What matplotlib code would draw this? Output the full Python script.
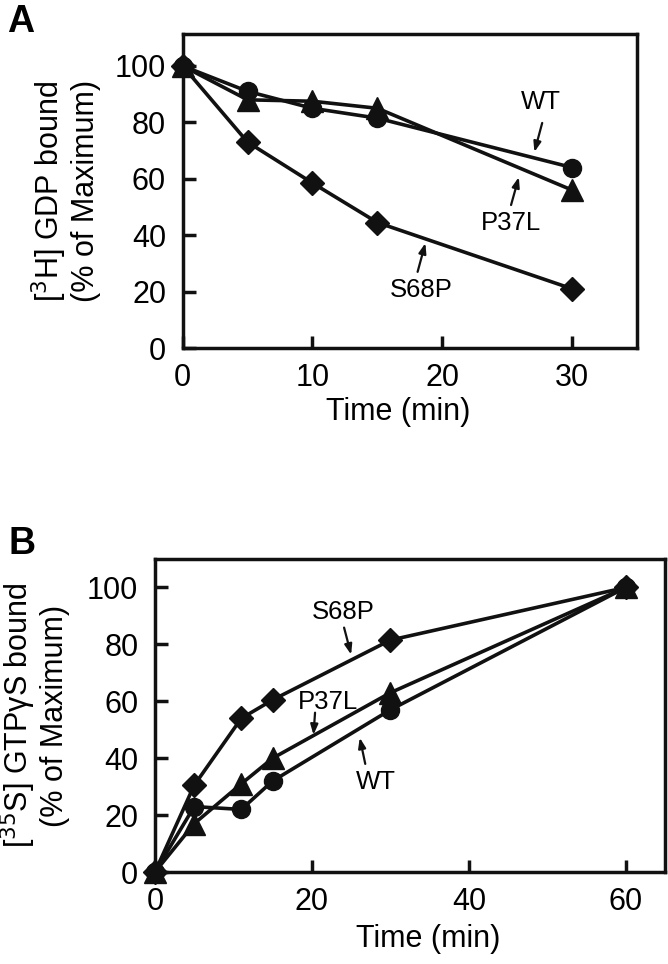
import matplotlib
matplotlib.use('Agg')
import matplotlib.pyplot as plt

plt.rcParams['font.family'] = ['Liberation Sans', 'DejaVu Sans']

# Panel A: [3H] GDP dissociation
time_a = [0, 5, 10, 15, 30]
wt_a = [100, 91, 85, 81.5, 64]
p37l_a = [100, 88, 87.5, 85, 56]
s68p_a = [100, 73, 58.5, 44.5, 21]

# Panel B: [35S] GTPgS binding
time_b = [0, 5, 11, 15, 30, 60]
wt_b = [0, 23, 22, 32, 57, 100]
p37l_b = [0, 17, 31, 40, 63, 100]
s68p_b = [0, 30.5, 54, 60.5, 81.5, 100]

yticks = [0, 20, 40, 60, 80, 100]
xticks_a = [0, 10, 20, 30]
xticks_b = [0, 20, 40, 60]

fig = plt.figure(figsize=(6.68, 9.64), dpi=100)
ax_a = fig.add_axes([0.2735, 0.639, 0.680, 0.3262])
ax_b = fig.add_axes([0.232, 0.0954, 0.7635, 0.3247])

FS = 22
LW = 2.6


def draw_series(ax, x, wt, p37l, s68p):
    ax.plot(x, wt, '-o', color='#111111', lw=LW, ms=13, clip_on=False, zorder=3)
    ax.plot(x, p37l, '-^', color='#111111', lw=LW, ms=15.5, clip_on=False, zorder=3)
    ax.plot(x, s68p, '-D', color='#111111', lw=LW, ms=12, clip_on=False, zorder=3)


def style_axis(ax, xmax, ymax, xticks, label_x, label_y):
    ax.set_xlim(0, xmax)
    ax.set_ylim(0, ymax)
    ax.set_xticks(xticks)
    ax.set_yticks(yticks)
    for s in ax.spines.values():
        s.set_linewidth(2.5)
        s.set_color('#111111')
    ax.tick_params(direction='in', length=9, width=2.5, labelsize=FS,
                   color='#111111', top=False, right=False)
    ax.tick_params(axis='x', pad=11)
    ax.tick_params(axis='y', pad=12)
    ax.set_xlabel('Time (min)', fontsize=FS)
    ax.xaxis.set_label_coords(label_x, label_y)


def note(ax, label, txt_xy, tail, head):
    ax.text(txt_xy[0], txt_xy[1], label, fontsize=18.5, ha='center', va='center')
    ax.annotate('', xy=head, xytext=tail,
                arrowprops=dict(arrowstyle='-|>,head_length=0.6,head_width=0.22',
                                color='#111111', lw=1.6, shrinkA=0, shrinkB=0))


draw_series(ax_a, time_a, wt_a, p37l_a, s68p_a)
style_axis(ax_a, 35, 111.5, xticks_a, 0.474, -0.155)
ax_a.set_ylabel('[$^3$H] GDP bound\n(% of Maximum)', fontsize=FS, labelpad=10,
                linespacing=1.1)
note(ax_a, 'WT', (27.6, 87.2), (27.7, 79.8), (27.1, 69.5))
note(ax_a, 'P37L', (25.3, 44.3), (25.3, 50.7), (25.9, 60.6))
note(ax_a, 'S68P', (18.4, 20.6), (18.1, 27), (18.7, 37.2))

draw_series(ax_b, time_b, wt_b, p37l_b, s68p_b)
style_axis(ax_b, 65, 110, xticks_b, 0.535, -0.165)
ax_b.set_ylabel('[$^{35}$S] GTP\u03b3S bound\n(% of Maximum)', fontsize=FS,
                labelpad=12, linespacing=1.1)
note(ax_b, 'S68P', (24.0, 91.5), (24.1, 85.9), (25.0, 76.4))
note(ax_b, 'P37L', (22.0, 59.9), (20.4, 56), (20.2, 48.2))
note(ax_b, 'WT', (28.1, 31.7), (26.8, 38), (26.1, 47.2))

fig.text(0.010, 0.977, 'A', fontsize=27, fontweight='bold', va='center')
fig.text(0.012, 0.436, 'B', fontsize=27, fontweight='bold', va='center')

fig.savefig('out.png', dpi=100)
